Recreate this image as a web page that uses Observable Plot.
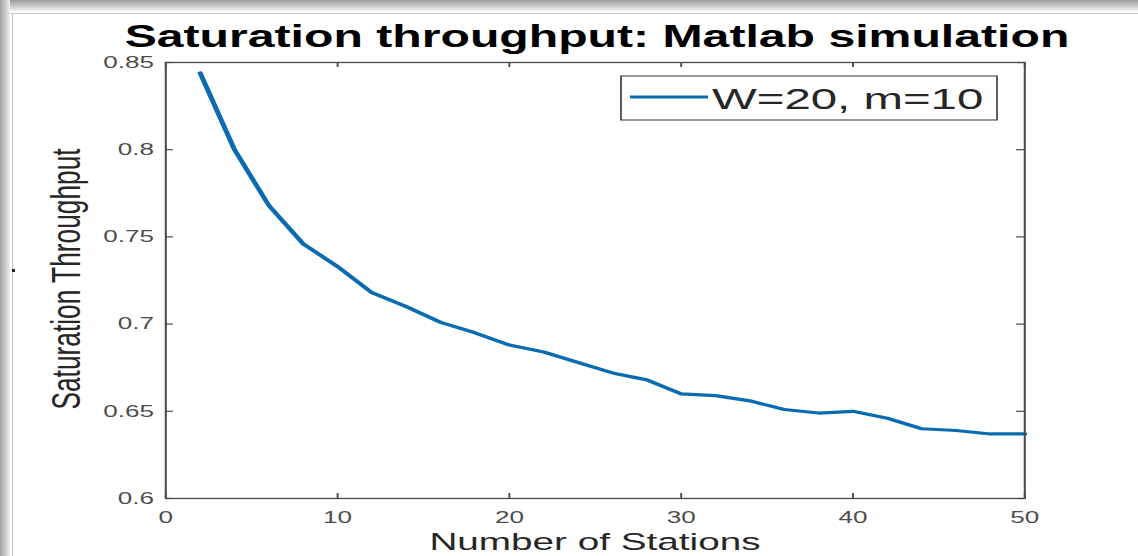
<!DOCTYPE html>
<html>
<head>
<meta charset="utf-8">
<script src="https://cdn.jsdelivr.net/npm/d3@7"></script>
<script src="https://cdn.jsdelivr.net/npm/@observablehq/plot@0.6"></script>
<style>
  html, body { margin: 0; padding: 0; background: #fff; }
  #wrap { position: relative; width: 1138px; height: 556px; overflow: hidden; background: #fff; }
  #shadowTop { position: absolute; left: 0; top: 0; width: 1138px; height: 11px;
    background: linear-gradient(to bottom, #9a9a9a, #d8d8d8 70%, #f4f4f4); }
  #shadowLeft { position: absolute; left: 0; top: 0; width: 10px; height: 556px;
    background: linear-gradient(to right, #a0a0a0, #d0d0d0 60%, #f0f0f0); }
  #lineTop { position: absolute; left: 10px; top: 13px; width: 1128px; height: 1px; background: #c8c8c8; }
  #lineLeft { position: absolute; left: 12px; top: 13px; width: 1px; height: 543px; background: #c8c8c8; }
  #dot { position: absolute; left: 12px; top: 269px; width: 3px; height: 3px; background: #222; }
  #chart { position: absolute; left: 0; top: 0; }
  #chart svg { display: block; transform-origin: 0 0; }
</style>
</head>
<body>
<div id="wrap">
  <div id="shadowTop"></div>
  <div id="shadowLeft"></div>
  <div id="lineTop"></div>
  <div id="lineLeft"></div>
  <div id="dot"></div>
  <div id="chart"></div>
</div>
<script>
// ---- data ----
const stations = [2, 4, 6, 8, 10, 12, 14, 16, 18, 20, 22, 24, 26, 28, 30, 32, 34, 36, 38, 40, 42, 44, 46, 48, 50];
const throughput = [0.844, 0.800, 0.768, 0.746, 0.733, 0.718, 0.710, 0.701, 0.695, 0.688, 0.684, 0.678, 0.672, 0.668, 0.660, 0.659, 0.656, 0.651, 0.649, 0.650, 0.646, 0.640, 0.639, 0.637, 0.637];
const xTicks = [0, 10, 20, 30, 40, 50];
const xTickLabels = ["0", "10", "20", "30", "40", "50"];
const yTicks = [0.6, 0.65, 0.7, 0.75, 0.8, 0.85];
const yTickLabels = ["0.6", "0.65", "0.7", "0.75", "0.8", "0.85"];
const seriesName = "W=20, m=10";
const titleText = "Saturation throughput: Matlab simulation";
const xLabel = "Number of Stations";
const yLabel = "Saturation Throughput";

const data = stations.map((s, i) => ({s, t: throughput[i]}));

// ---- layout (the original figure is stretched horizontally) ----
const k = 1.58;
const W = 1138 / k;
const H = 556;
const mL = 165 / k, mR = (1138 - 1024) / k, mT = 62, mB = 58;
const pw = W - mL - mR, ph = H - mT - mB;
const tick = 5;
const axisColor = "#4a4a4a";
const lineColor = "#0a6cb0";
const font = "'Liberation Sans', Arial, Helvetica, sans-serif";

const chart = Plot.plot({
  width: W,
  height: H,
  marginLeft: mL, marginRight: mR, marginTop: mT, marginBottom: mB,
  style: {fontFamily: font, background: "transparent", overflow: "visible"},
  x: {domain: [0, 50]},
  y: {domain: [0.6, 0.85]},
  marks: [
    Plot.ruleX(xTicks, {insetTop: ph - tick, stroke: axisColor, strokeWidth: 1.2}),
    Plot.ruleX(xTicks, {insetBottom: ph - tick, stroke: axisColor, strokeWidth: 1.2}),
    Plot.ruleY(yTicks, {insetRight: pw - tick, stroke: axisColor, strokeWidth: 1.2}),
    Plot.ruleY(yTicks, {insetLeft: pw - tick, stroke: axisColor, strokeWidth: 1.2}),
    Plot.line(data, {x: "s", y: "t", stroke: lineColor, strokeWidth: 3.2, strokeLinejoin: "round"}),
    Plot.frame({stroke: axisColor, strokeWidth: 1.3}),
    Plot.axisX(xTicks, {tickSize: 0, tickPadding: 13, fontSize: 16.5, color: "#4d4d4d", label: null,
      tickFormat: (d) => xTickLabels[xTicks.indexOf(d)]}),
    Plot.axisY(yTicks, {tickSize: 0, tickPadding: 7.5, fontSize: 16.5, color: "#4d4d4d", label: null,
      tickFormat: (d) => yTickLabels[yTicks.indexOf(d)]})
  ]
});

const svg = d3.select(chart);
svg.style("transform", `scaleX(${k})`);

// title
svg.append("text")
  .attr("x", 597 / k).attr("y", 47)
  .attr("text-anchor", "middle")
  .attr("font-family", font).attr("font-weight", "bold").attr("font-size", 30.5)
  .attr("fill", "#000")
  .text(titleText);

// x label
svg.append("text")
  .attr("x", 595 / k).attr("y", 550)
  .attr("text-anchor", "middle")
  .attr("font-family", font).attr("font-size", 24.5)
  .attr("fill", "#262626")
  .text(xLabel);

// y label
svg.append("text")
  .attr("transform", `translate(${80 / k},279) rotate(-90)`)
  .attr("text-anchor", "middle")
  .attr("font-family", font).attr("font-size", 26.3)
  .attr("fill", "#262626")
  .text(yLabel);

// legend
const lg = svg.append("g");
lg.append("rect")
  .attr("x", 621 / k).attr("y", 76)
  .attr("width", (997 - 621) / k).attr("height", 44)
  .attr("fill", "#fff").attr("stroke", "#333").attr("stroke-width", 1);
lg.append("line")
  .attr("x1", 630 / k).attr("x2", 708 / k).attr("y1", 97).attr("y2", 97)
  .attr("stroke", lineColor).attr("stroke-width", 3.2);
lg.append("text")
  .attr("x", 712 / k).attr("y", 109)
  .attr("text-anchor", "start")
  .attr("font-family", font).attr("font-size", 30)
  .attr("fill", "#262626")
  .text(seriesName);

document.getElementById("chart").appendChild(chart);
</script>
</body>
</html>
